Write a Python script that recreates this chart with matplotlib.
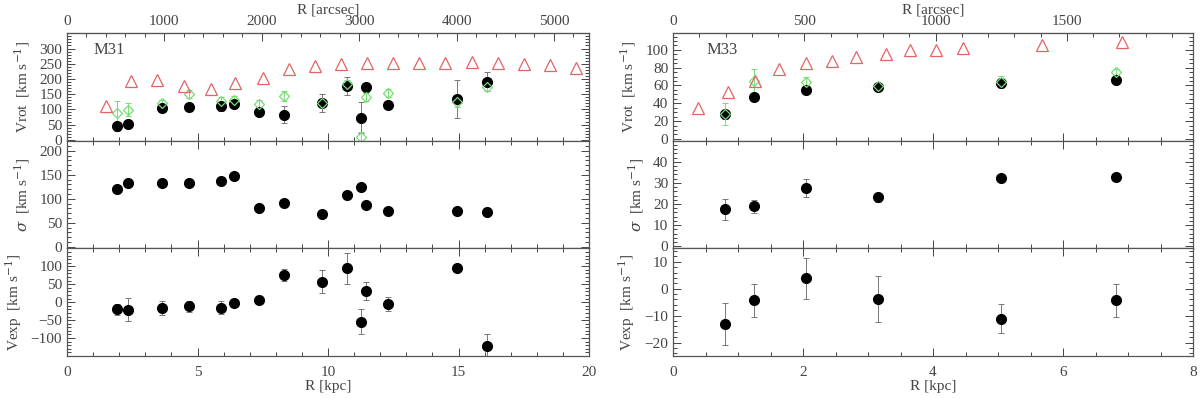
import matplotlib
matplotlib.use('Agg')
import matplotlib.pyplot as plt
from matplotlib.ticker import MultipleLocator, FixedLocator, FuncFormatter

# ---- M31 (R in kpc) ----
m31_r = [1.90, 2.35, 3.64, 4.66, 5.89, 6.40, 7.34, 8.33, 9.78, 10.74, 11.25, 11.47, 12.30, 14.93, 16.10]
m31_vrot = [44, 53, 104, 108, 110, 118, 92, 83, 121, 177, 73, 172, 115, 133, 191]
m31_vrot_err = [15, 8, 6, 5, 14, 6, 5, 27, 30, 30, 52, 15, 8, 62, 32]
m31_vrot_g = [88, 99, 122, 150, 127, 132, 119, 144, 122, 183, 9, 141, 155, 124, 174]
m31_vrot_g_err = [40, 22, 10, 12, 12, 12, 12, 15, 12, 12, 15, 12, 13, 15, 15]
m31_sig = [121, 133, 132, 132, 137, 147, 80, 92, 68, 108, 125, 88, 74, 74, 73]
m31_sig_err = [3, 3, 3, 3, 3, 3, 3, 3, 3, 3, 3, 3, 3, 3, 3]
m31_vexp = [-20, -21, -17, -12, -15, -2, 5, 75, 57, 95, -55, 30, -5, 94, -121]
m31_vexp_err = [16, 32, 19, 16, 18, 6, 8, 17, 32, 43, 35, 25, 19, 10, 32]
m31_tri_r = [1.5, 2.45, 3.45, 4.5, 5.5, 6.45, 7.5, 8.5, 9.5, 10.5, 11.5, 12.5, 13.5, 14.5, 15.5, 16.5, 17.5, 18.5, 19.5]
m31_tri_v = [110, 192, 196, 176, 168, 185, 203, 233, 242, 249, 252, 252, 253, 253, 255, 253, 249, 245, 236]
m31_arcsec_ticks = [0, 1000, 2000, 3000, 4000, 5000]

# ---- M33 (R in kpc) ----
m33_r = [0.80, 1.25, 2.05, 3.15, 5.05, 6.81]
m33_vrot = [27.5, 47, 55.5, 58, 62.5, 66]
m33_vrot_err = [5, 4, 3, 3, 3, 2]
m33_vrot_g = [28, 64.5, 64, 59, 64, 75]
m33_vrot_g_err = [12, 14, 5, 4, 7, 3]
m33_sig = [17.4, 18.9, 27.7, 23.1, 32.3, 32.6]
m33_sig_err = [4.8, 3, 4.2, 2, 1.5, 1.5]
m33_vexp = [-13.1, -4.3, 3.8, -3.7, -11.1, -4.3]
m33_vexp_err = [7.7, 6.2, 7.7, 8.5, 5.5, 6.2]
m33_tri_r = [0.38, 0.84, 1.26, 1.63, 2.04, 2.44, 2.82, 3.27, 3.64, 4.04, 4.46, 5.68, 6.90]
m33_tri_v = [35, 53, 65, 78, 85, 88, 92, 95, 100, 100, 102.6, 105.6, 108.6]
m33_arcsec_ticks = [0, 500, 1000, 1500]

plt.rcParams['font.family'] = ['Liberation Serif', 'DejaVu Serif']
plt.rcParams['font.size'] = 11
tc = '#444444'
plt.rcParams['text.color'] = tc
plt.rcParams['axes.labelcolor'] = tc
plt.rcParams['xtick.color'] = tc
plt.rcParams['ytick.color'] = tc
plt.rcParams['axes.edgecolor'] = '#555555'
plt.rcParams['mathtext.fontset'] = 'dejavuserif'

green = '#77dd77'
red = '#e06666'
grey = '#777777'

fig = plt.figure(figsize=(12, 3.98), dpi=100)

W, H = 1200.0, 398.0
top_px, bot_px = 33, 356
ph = (bot_px - top_px) / 3.0


def make_axes(x0, x1):
    axs = []
    for i in range(3):
        y_top = top_px + i * ph
        rect = [x0 / W, 1 - (y_top + ph) / H, (x1 - x0) / W, ph / H]
        axs.append(fig.add_axes(rect))
    return axs


def limited(lo, hi):
    def f(v, p):
        if v < lo - 1e-9 or v > hi + 1e-9:
            return ''
        s = '%g' % v
        return s.replace('-', '\u2212')
    return FuncFormatter(f)


def style(ax, xmaj, xmin, ymaj, ymin, top=True):
    ax.xaxis.set_major_locator(MultipleLocator(xmaj))
    ax.xaxis.set_minor_locator(MultipleLocator(xmin))
    ax.yaxis.set_major_locator(MultipleLocator(ymaj))
    ax.yaxis.set_minor_locator(MultipleLocator(ymin))
    ax.tick_params(which='both', direction='in', top=top, right=True, width=0.7)
    ax.tick_params(which='major', length=6)
    ax.tick_params(which='minor', length=3)
    ax.tick_params(axis='x', pad=7)
    for s in ax.spines.values():
        s.set_linewidth(0.9)


def panel_set(x0, x1, xmax, scale, xmaj, xmin, data, ylims, ymajs, ymins, lablims,
              top_ticks, topmin, name, name_x):
    r, vrot, vrot_e, vg, vg_e, sig, sig_e, vexp, vexp_e, tr, tv = data
    axs = make_axes(x0, x1)
    ekw = dict(fmt='none', ecolor=grey, elinewidth=0.7, capsize=2.5, capthick=0.7)
    gkw = dict(fmt='none', ecolor=green, elinewidth=0.7, capsize=2.5, capthick=0.7)
    a = axs[0]
    a.errorbar(r, vrot, yerr=vrot_e, **ekw)
    a.plot(r, vrot, 'o', color='black', ms=7, zorder=3)
    a.errorbar(r, vg, yerr=vg_e, **gkw)
    a.plot(r, vg, 'D', mfc='none', mec=green, ms=5.5, mew=0.9, zorder=4)
    a.plot(tr, tv, '^', mfc='none', mec=red, ms=8, mew=0.9, zorder=4)
    a.set_ylabel('Vrot  [km s$^{-1}$]', labelpad=5)
    a.text(name_x, 0.84, name, transform=a.transAxes, fontsize=12, ha='left', va='center')
    sec = a.secondary_xaxis('top', functions=(lambda x: x * scale, lambda x: x / scale))
    sec.xaxis.set_major_locator(FixedLocator(top_ticks))
    sec.xaxis.set_minor_locator(MultipleLocator(topmin))
    sec.tick_params(which='both', direction='in', width=0.7)
    sec.tick_params(which='major', length=6)
    sec.tick_params(which='minor', length=3)
    sec.set_xlabel('R [arcsec]', labelpad=1)

    b = axs[1]
    b.errorbar(r, sig, yerr=sig_e, **ekw)
    b.plot(r, sig, 'o', color='black', ms=7, zorder=3)
    b.set_ylabel('$\\sigma$  [km s$^{-1}$]', labelpad=5)

    c = axs[2]
    c.errorbar(r, vexp, yerr=vexp_e, **ekw)
    c.plot(r, vexp, 'o', color='black', ms=7, zorder=3)
    c.set_ylabel('Vexp  [km s$^{-1}$]', labelpad=5)
    c.set_xlabel('R [kpc]', labelpad=1)

    for i, ax in enumerate(axs):
        ax.set_xlim(0, xmax)
        ax.set_ylim(*ylims[i])
        style(ax, xmaj, xmin, ymajs[i], ymins[i], top=(i != 0))
        ax.yaxis.set_major_formatter(limited(*lablims[i]))
        if i < 2:
            ax.tick_params(labelbottom=False)
    return axs


panel_set(67, 589, 20, 268.0, 5, 1,
          (m31_r, m31_vrot, m31_vrot_err, m31_vrot_g, m31_vrot_g_err, m31_sig, m31_sig_err,
           m31_vexp, m31_vexp_err, m31_tri_r, m31_tri_v),
          [(-3, 351), (-3, 221), (-150, 150)], [50, 50, 50], [10, 10, 10],
          [(0, 300), (0, 200), (-100, 100)],
          m31_arcsec_ticks, 200, 'M31', 0.05)

panel_set(673, 1193, 8, 247.5, 2, 0.5,
          (m33_r, m33_vrot, m33_vrot_err, m33_vrot_g, m33_vrot_g_err, m33_sig, m33_sig_err,
           m33_vexp, m33_vexp_err, m33_tri_r, m33_tri_v),
          [(-2, 119), (-1, 50), (-25, 15)], [20, 10, 10], [5, 2, 2],
          [(0, 100), (0, 40), (-20, 10)],
          m33_arcsec_ticks, 100, 'M33', 0.065)

fig.savefig('out.png', dpi=100)
